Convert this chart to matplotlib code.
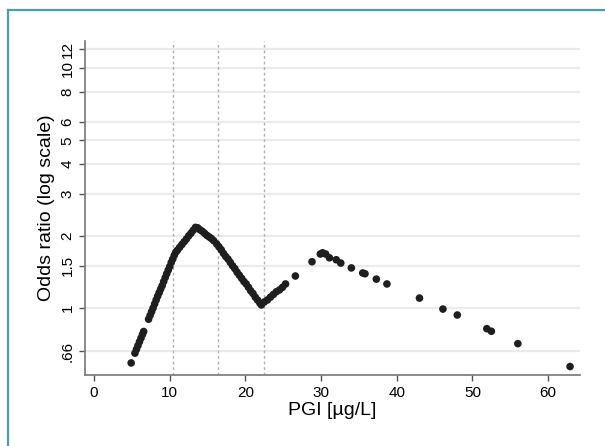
import matplotlib
matplotlib.use("Agg")
import matplotlib.pyplot as plt
from matplotlib.lines import Line2D
from matplotlib.ticker import FixedLocator, NullLocator

plt.rcParams["font.family"] = ["Liberation Sans", "DejaVu Sans"]

# PGI values (ug/L) and fitted odds ratios
pgi = [4.9,
       5.4, 5.6, 5.8, 6.0, 6.2, 6.4, 6.55,
       7.2, 7.4, 7.6, 7.8, 8.0, 8.2, 8.4, 8.6, 8.8, 9.0, 9.2, 9.4, 9.6, 9.8,
       10.0, 10.2, 10.4, 10.6, 10.8, 11.0, 11.3, 11.6, 11.9, 12.2, 12.5, 12.8,
       13.1, 13.4, 13.7, 14.0, 14.3, 14.6, 14.9, 15.2, 15.5, 15.8,
       16.2, 16.5, 16.8, 17.1, 17.4, 17.7, 18.0, 18.3, 18.6, 18.9, 19.2, 19.5,
       19.8, 20.1, 20.4, 20.7, 21.0, 21.3, 21.6, 21.9, 22.1,
       22.5, 22.9, 23.3, 23.7, 24.1, 24.5, 24.9, 25.3,
       26.6, 28.8, 29.9, 30.2, 30.6, 31.1, 32.0, 32.6, 34.0, 35.5, 35.8,
       37.3, 38.7, 43.0, 46.1, 48.0, 51.9, 52.5, 56.0, 62.9]
odds = [0.59,
        0.648, 0.672, 0.697, 0.723, 0.749, 0.776, 0.798,
        0.898, 0.931, 0.965, 1.00, 1.04, 1.08, 1.12, 1.16, 1.20, 1.24, 1.29, 1.34, 1.39, 1.44,
        1.49, 1.55, 1.60, 1.66, 1.71, 1.74, 1.79, 1.84, 1.89, 1.94, 2.00, 2.05,
        2.11, 2.17, 2.16, 2.12, 2.09, 2.05, 2.01, 1.98, 1.95, 1.91,
        1.85, 1.80, 1.75, 1.69, 1.64, 1.60, 1.55, 1.50, 1.46, 1.41, 1.37, 1.33,
        1.29, 1.26, 1.22, 1.18, 1.15, 1.11, 1.08, 1.05, 1.03,
        1.06, 1.08, 1.11, 1.14, 1.17, 1.19, 1.22, 1.26,
        1.36, 1.56, 1.68, 1.70, 1.68, 1.62, 1.59, 1.54, 1.47, 1.40, 1.39,
        1.32, 1.26, 1.10, 0.99, 0.935, 0.82, 0.80, 0.71, 0.57]

cutoffs = [10.45, 16.4, 22.45]
ytick_vals = [0.66, 1, 1.5, 2, 3, 4, 5, 6, 8, 10, 12]
ytick_labels = [".66", "1", "1.5", "2", "3", "4", "5", "6", "8", "10", "12"]
xtick_vals = [0, 10, 20, 30, 40, 50, 60]

fig = plt.figure(figsize=(6.05, 4.46), dpi=100)
ax = fig.add_axes([0.1405, 0.159, 0.818, 0.749])

ax.set_yscale("log")
ax.set_xlim(-1.2, 64.2)
ax.set_ylim(0.525, 13.0)

for yv in ytick_vals:
    ax.axhline(yv, color="#ebebeb", lw=1.6, zorder=0)
for c in cutoffs:
    ax.axvline(c, color="#b0b0b0", lw=1.0, ls=(0, (2, 2)), zorder=1)

ax.scatter(pgi, odds, s=30, color="#1e1e1e", edgecolors="none", zorder=3)

ax.yaxis.set_major_locator(FixedLocator(ytick_vals))
ax.yaxis.set_minor_locator(NullLocator())
ax.set_yticklabels(ytick_labels, rotation=90, va="center")
ax.set_xticks(xtick_vals)
ax.tick_params(axis="both", labelsize=11, color="#555555", length=4, width=1)

for s in ("top", "right"):
    ax.spines[s].set_visible(False)
for s in ("left", "bottom"):
    ax.spines[s].set_color("#777777")
    ax.spines[s].set_linewidth(1.2)

ax.set_xlabel("PGI [µg/L]", fontsize=14, labelpad=2)
ax.set_ylabel("Odds ratio (log scale)", fontsize=14, labelpad=4)

# teal frame on left and top edges
border = "#4a9dab"
fig.add_artist(Line2D([0.014, 0.014], [0.0, 0.978], color=border, lw=1.6,
                      transform=fig.transFigure))
fig.add_artist(Line2D([0.014, 1.0], [0.978, 0.978], color=border, lw=1.6,
                      transform=fig.transFigure))

fig.savefig("out.png", dpi=100)
